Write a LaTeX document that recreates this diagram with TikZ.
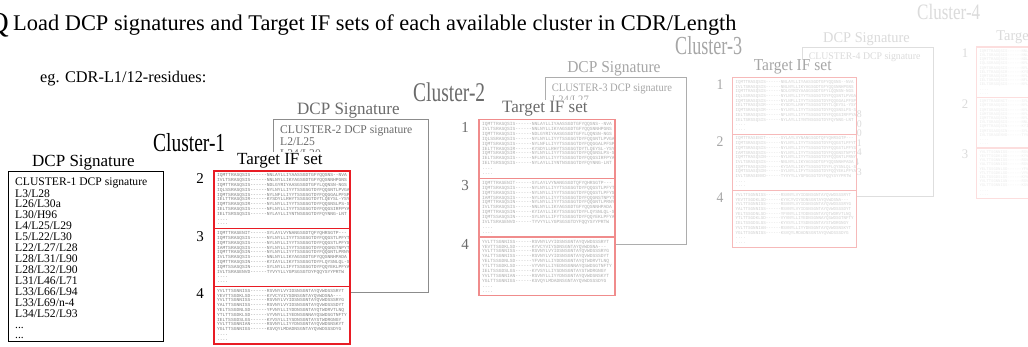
\documentclass[tikz,border=0pt]{standalone}
\usepackage{fontspec}
\setmainfont{Liberation Serif}
\setmonofont{Liberation Mono}
\usepackage{graphicx}

\definecolor{ctext1}{gray}{0}
\definecolor{cbox1}{gray}{0}
\definecolor{cred1}{RGB}{232,28,36}
\definecolor{cseq1}{gray}{0.5}
\definecolor{ctext2}{gray}{0.42}
\definecolor{cbox2}{gray}{0.55}
\definecolor{cred2}{RGB}{240,140,140}
\definecolor{cseq2}{gray}{0.68}
\definecolor{ctext3}{gray}{0.65}
\definecolor{cbox3}{gray}{0.68}
\definecolor{cred3}{RGB}{246,185,185}
\definecolor{cseq3}{gray}{0.82}
\definecolor{ctext4}{gray}{0.86}
\definecolor{cbox4}{gray}{0.87}
\definecolor{cred4}{RGB}{252,222,222}
\definecolor{cseq4}{gray}{0.92}

\newcommand\seqsecA{IQMTTRASQSIS------NNLAYLLIYAASSGDTGFYQQSNS--NVA\\
IVLTSRASQSIS------NNLNYLLIKYAGSGDTGFYQQSNNHPGNS\\
IQMTTRASQSIS------NDLGYRIYAASGSGDTGFYLQQNSN-NGS\\
IQLSSRASQSIS------NYLNYLLIYYTSSGSGTDYFQQSNTLPVGA\\
IQMTSRASQSIS------NYLNFLLIYYTSSGSGTDYFQQGGALPFSP\\
IELTTRASQSIR------KYSDYLLRHYTSSGSGTDYTLQEYSL-YSY\\
IQMTSRASQSIR------NYLNYLLIYYTSSGSGTDYFQQSNSLPS-S\\
IELTSRASQSIS------NFLNYLLIYYTSSGSGTDYFQQGSIRFPYA\\
IELTSRSSQSIS------NYLAYLLIYNTNSGSGTDYFQYNNG-LNT\\
....\\
....}
\newcommand\seqsecB{IQMTTRASENIT------SYLAYLVYNANGSGDTQFYQHRSGTP---\\
IQMTSRASQSIS------NYLNYLLIYYTSSGSGTDYFQQGSTLPFYT\\
IQMTSRASQSIS------NYLNYLLIYYTSSGSGTDYFQQGSTLPFYS\\
IAMTSRASQSIS------NYLNYLLIYYTSSGSGTDYFQQGNSTNPYT\\
IQMTTRASQSIN------NYLNYLLIYYTSSGSGTDYFQQGNTLPRNY\\
IVLTSRASQSIS------NNLNYLLIKYAGSGDTGFYQQSNNHPADA\\
IQMTTRASQSIN------KYIAYLLIKYTSSGSGTDYFLQYSNLQL-S\\
IQMTSSASQSIN------SYLNYLLIFYTSSGSGTDYFQQYEKLPFYA\\
IVLTSRASENVD------TYVYYLLYGPSGSGTDYFQQYSYYPRTW\\
....\\
....}
\newcommand\seqsecC{YVLTTSGNNISS------RSVNYLVYIDSNSGNTAYQVWDSSSRYT\\
YEVTTSGDKLSD------KYVCYVIYSDNSGNTAYQVWDSNA---\\
YVLTTSGNNISS------RSVNYLVYIDSNSGNTAYQVWDSSSRYG\\
YALTTSGNNISS------RSVNYLVYIDSNSGNTAYQVWDSSSDYT\\
YELTSSGDNLSD------YFVNYLLIYDDNSGNTAYQTWDRVTLNQ\\
YTLTTSGDKLSD------VYVNYLLIYEDNSGNNAYQSWDSGTNFTY\\
IELTSSGDSLGS------KYVSYLLIYSDNSGNTAYSTWDRGNGY\\
YVLTTSGNNIAN------RSVNYLLIYYDNSGNTAYQVWDSNSKYT\\
YGLTTSGNNIGS------KSVQYLMDADNSGNTAYQVWDSSSDYG\\
....\\
....}

\newcommand\tdots{...}
\newcommand\dcplistA{L3/L28,L26/L30a,L30/H96,L4/L25/L29,L5/L22/L30,L22/L27/L28,L28/L31/L90,L28/L32/L90,L31/L46/L71,L33/L66/L94,L33/L69/n-4,L34/L52/L93,\tdots,\tdots}
\newcommand\dcplistB{L2/L25,L24/L30,L26/L30a,L30/H96,L4/L25/L29,L5/L22/L30,L22/L27/L28,L28/L31/L90,L28/L32/L90,L31/L46/L71,L33/L66/L94,L34/L52/L93,\tdots,\tdots}
\newcommand\dcplistC{L24/L27,L3/L28,L26/L30a,L30/H96,L4/L25/L29,L5/L22/L30,L22/L27/L28,L28/L31/L90,L28/L32/L90,L31/L46/L71,L33/L66/L94,L34/L52/L93,\tdots,\tdots}

\tikzset{
  dcpbox/.style={draw, fill=white, line width=0.8pt, minimum width=155pt, minimum height=170pt, anchor=north west, inner sep=0pt, outer sep=0pt},
  hdr/.style={anchor=base west, inner sep=0pt, font=\fontsize{17}{17}\selectfont},
  dcptxt/.style={anchor=base west, inner sep=0pt, font=\fontsize{11.6}{11.6}\selectfont},
  secbox/.style={draw, fill=white, line width=1.2pt, minimum width=136pt, minimum height=57.67pt, anchor=north west, inner sep=0pt, outer sep=0pt},
  numlab/.style={inner sep=0pt, font=\fontsize{15}{15}\selectfont},
  seqtxt/.style={anchor=north west, inner sep=0pt, align=left, font=\fontsize{4.6}{4.8}\ttfamily},
  clab/.style={anchor=base west, inner sep=0pt},
}

\newcommand\drawclus[6]{%
\begin{scope}[#2, transform shape]
  \node[dcpbox, draw=cbox#1] (dcp#1) at (8,171) {};
  \node[hdr, text=ctext#1] (dcpt#1) at (32,166) {DCP Signature};
  \node[dcptxt, text=ctext#1] (dcpc#1) at (15,185) {CLUSTER-#1 DCP signature};
  \foreach \t [count=\i] in #3 {
    \node[dcptxt, text=ctext#1] (dcpl#1-\i) at (15,{197+(\i-1)*10.92}) {\t};
  }
  \fill[white] (190,152) rectangle (351,345);
  \node[hdr, text=ctext#1] (tgtt#1) at (237,164) {Target IF set};
  \foreach \lb/\ty/\sq [count=\j] in {#4/171/\seqsecA, #5/228.67/\seqsecB, #6/286.33/\seqsecC} {
    \node[secbox, draw=cred#1] (sec#1-\j) at (214,\ty) {};
    \node[numlab, text=ctext#1] (num#1-\j) at (200,\ty+7.5) {\lb};
    \node[seqtxt, text=cseq#1] (seq#1-\j) at (217,\ty+2.7) {\sq};
  }
\end{scope}}

\begin{document}
\begin{tikzpicture}[x=1pt, y=-1pt]
\useasboundingbox (0,0) rectangle (1028,346);
\fill[white] (0,0) rectangle (1028,346);

\drawclus{4}{shift={(796,-102.8)}, xscale=0.845, yscale=0.876}{\dcplistA}{1}{2}{3}
\drawclus{3}{shift={(538,-90)}, xscale=0.91, yscale=0.98}{\dcplistC}{1}{2}{4}
\drawclus{2}{shift={(265,-55)}, yscale=1.02}{\dcplistB}{1}{3}{4}
\drawclus{1}{shift={(0,0)}}{\dcplistA}{2}{3}{4}

\node[clab] (cl1) at (153,151) {\resizebox{72pt}{\height}{\fontsize{26}{26}\selectfont Cluster-1}};
\node[clab, text=ctext2] (cl2) at (413,101) {\resizebox{72pt}{\height}{\fontsize{27}{27}\selectfont Cluster-2}};
\node[clab, text=ctext3] (cl3) at (675,54) {\resizebox{67pt}{\height}{\fontsize{26}{26}\selectfont Cluster-3}};
\node[clab, text=ctext4] (cl4) at (917,19) {\resizebox{63pt}{\height}{\fontsize{22}{22}\selectfont Cluster-4}};

\node[anchor=base east, inner sep=0pt, font=\fontsize{29}{29}\selectfont] (qmark) at (9,32) {Q};
\node[anchor=base west, inner sep=0pt, font=\fontsize{22.4}{22.4}\selectfont] (title) at (13,30) {Load DCP signatures and Target IF sets of each available cluster in CDR/Length};
\node[anchor=base west, inner sep=0pt, font=\fontsize{16.3}{16.3}\selectfont] (eg) at (40,82) {eg. CDR-L1/12-residues:};
\end{tikzpicture}
\end{document}
